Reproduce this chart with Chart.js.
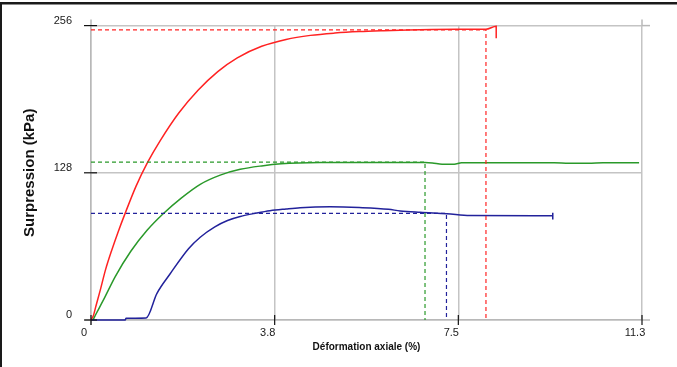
<!DOCTYPE html>
<html><head><meta charset="utf-8">
<script src="https://cdn.jsdelivr.net/npm/chart.js@4/dist/chart.umd.min.js"></script>
<style>html,body{margin:0;padding:0;background:#fff;overflow:hidden}</style>
</head><body>
<canvas id="c" width="677" height="367" style="display:block;width:677px;height:367px"></canvas>
<script>
// ---- data ----
const xTicks = [0, 3.7667, 7.5333, 11.3];
const xTickLabels = ['0', '3.8', '7.5', '11.3'];
const yTicks = [0, 128, 256];
const yTickLabels = ['0', '128', '256'];

const redStrain  = [0, 0.05, 0.1, 0.19, 0.3, 0.42, 0.56, 0.70, 0.92, 1.16, 1.42, 1.8, 2.2, 2.6, 3.0, 3.5, 4.0, 4.5, 5.0, 5.5, 6.0, 6.5, 7.0, 7.5, 8.1, 8.31, 8.31];
const redStress  = [0, 4, 12, 26, 44, 60, 77, 92.7, 116, 137, 156, 180, 200, 216, 228, 238, 244, 247.5, 249.5, 250.8, 251.6, 252.2, 252.6, 252.8, 252.8, 255.5, 245];

const greenStrain = [0.04, 0.1, 0.25, 0.5, 0.82, 1.15, 1.48, 1.85, 2.24, 2.65, 3.06, 3.5, 3.9, 4.7, 5.5, 6.5, 6.85, 7.0, 7.2, 7.45, 7.6, 9.5, 9.8, 10.2, 10.5, 11.24];
const greenStress = [0, 5, 17, 38, 60, 78, 92.4, 106, 118, 126, 131, 134, 135.8, 136.9, 137, 137, 137, 136.6, 135.4, 135.5, 136.7, 136.7, 136.2, 136.2, 136.7, 136.8];

const blueStrain = [0, 0.7, 0.72, 1.13, 1.35, 1.62, 2.0, 2.24, 2.54, 2.8, 3.06, 3.4, 3.67, 4.0, 4.29, 4.9, 5.5, 6.1, 6.34, 6.75, 7.3, 7.77, 9.47, 9.47, 9.47];
const blueStress = [0, 0, 1.5, 1.8, 23, 40, 62, 72, 81, 86.5, 90, 93, 95, 96.5, 97.6, 98.4, 97.8, 96.3, 94.8, 93.6, 92.4, 90.9, 90.7, 93.2, 87.3];

// rupture markers (dashed guides): [strain, stress]
const redPeak = [8.1, 252.2];
const greenPeak = [6.85, 137.3];
const bluePeak = [7.29, 92.7];

const RED = '#ff2222', GREEN = '#2a992a', BLUE = '#22229b';

function pts(xs, ys) { return xs.map((x, i) => ({x: x, y: ys[i]})); }
function guide(p) { return [{x: 0, y: p[1]}, {x: p[0], y: p[1]}, {x: p[0], y: 0}]; }

const decor = {
  id: 'decor',
  beforeDatasetsDraw(chart) {
    const {ctx} = chart; const xs = chart.scales.x, ys = chart.scales.y;
    const xl = xs.getPixelForValue(0), xr = xs.getPixelForValue(11.3);
    const yb = ys.getPixelForValue(0), yt = ys.getPixelForValue(256);
    ctx.save();
    ctx.strokeStyle = '#b8b8b8'; ctx.lineWidth = 1.5;
    const seg = (a, b, c, d) => { ctx.beginPath(); ctx.moveTo(a, b); ctx.lineTo(c, d); ctx.stroke(); };
    seg(xr, yt, xr + 8, yt); seg(xr, yb, xr + 8, yb);
    seg(xr, yt - 6, xr, yt); seg(xl, yt - 6, xl, yt);
    seg(xl - 6, yb, xl, yb); seg(xl, yb, xl, yb + 5);
    ctx.restore();
  },
  afterDraw(chart) {
    const {ctx} = chart; const xs = chart.scales.x, ys = chart.scales.y;
    const x0 = xs.getPixelForValue(0), y0 = ys.getPixelForValue(0);
    ctx.save();
    ctx.fillStyle = '#1a1a1a';
    ctx.fillRect(0, 2, chart.width, 2.5);
    ctx.fillRect(0, 2, 2, chart.height);
    ctx.strokeStyle = '#111'; ctx.lineWidth = 1.2;
    const seg = (a, b, c, d) => { ctx.beginPath(); ctx.moveTo(a, b); ctx.lineTo(c, d); ctx.stroke(); };
    yTicks.forEach(v => { const y = ys.getPixelForValue(v); seg(x0 - 7, y, x0 + 6, y); });
    xTicks.forEach(v => { const x = xs.getPixelForValue(v); seg(x, y0 - 5, x, y0 + 5); });
    ctx.restore();
  }
};

const lineDs = (data, color) => ({data, borderColor: color, borderWidth: 1.5, pointRadius: 0, cubicInterpolationMode: 'monotone', fill: false, clip: 6});
const dashDs = (data, color) => ({data, borderColor: color, borderWidth: 1.2, borderDash: [4, 3], pointRadius: 0, tension: 0, fill: false, clip: 6});

new Chart(document.getElementById('c'), {
  type: 'line',
  data: {
    datasets: [
      dashDs(guide(redPeak), RED),
      dashDs(guide(greenPeak), GREEN),
      dashDs(guide(bluePeak), BLUE),
      lineDs(pts(blueStrain, blueStress), BLUE),
      lineDs(pts(greenStrain, greenStress), GREEN),
      lineDs(pts(redStrain, redStress), RED)
    ]
  },
  options: {
    responsive: false,
    animation: false,
    devicePixelRatio: 1,
    layout: {padding: {left: 0, right: 35, top: 23, bottom: 0}},
    plugins: {legend: {display: false}, tooltip: {enabled: false}},
    scales: {
      x: {
        type: 'linear', min: 0, max: 11.3,
        afterBuildTicks: s => { s.ticks = xTicks.map(v => ({value: v})); },
        afterFit: s => { s.height = 47; },
        grid: {color: '#c4c4c4', lineWidth: 1.5, drawTicks: false},
        border: {color: '#b8b8b8', width: 1.5},
        ticks: {callback: (v, i) => xTickLabels[i], padding: 6, labelOffset: -7, maxRotation: 0, autoSkip: false,
                color: '#1a1a1a', font: {family: 'Liberation Sans, Arial, sans-serif', size: 11}},
        title: {display: true, text: 'Déformation axiale (%)', color: '#111',
                font: {family: 'Liberation Sans, Arial, sans-serif', size: 10, weight: 'bold'}, padding: {top: 0, bottom: 14}}
      },
      y: {
        type: 'linear', min: 0, max: 256,
        afterBuildTicks: s => { s.ticks = yTicks.map(v => ({value: v})); },
        afterFit: s => { s.width = 91; },
        grid: {color: '#c4c4c4', lineWidth: 1.5, drawTicks: false},
        border: {color: '#b8b8b8', width: 1.5},
        ticks: {callback: (v, i) => yTickLabels[i], padding: 19, labelOffset: -5, autoSkip: false,
                color: '#1a1a1a', font: {family: 'Liberation Sans, Arial, sans-serif', size: 11}},
        title: {display: true, text: 'Surpression (kPa)', color: '#111',
                font: {family: 'Liberation Sans, Arial, sans-serif', size: 15, weight: 'bold'}, padding: {top: 21, bottom: 0}}
      }
    }
  },
  plugins: [decor]
});
</script>
</body></html>
